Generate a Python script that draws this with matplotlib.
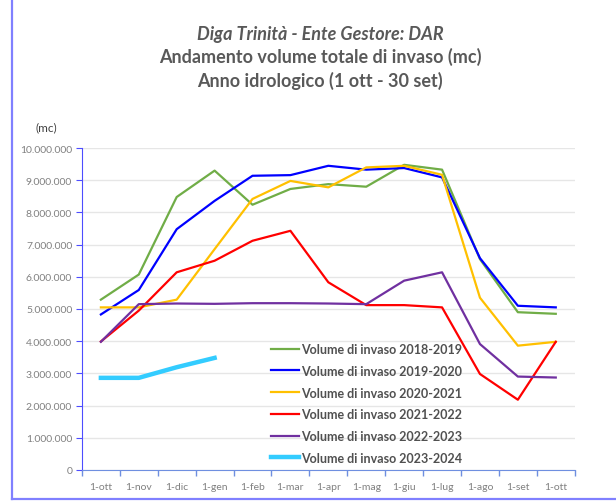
import numpy as np
import matplotlib
matplotlib.use("Agg")
import matplotlib.pyplot as plt
from matplotlib.lines import Line2D
from matplotlib.ticker import FuncFormatter

plt.rcParams['font.family'] = ['Lato', 'DejaVu Sans']

months = ['1-ott', '1-nov', '1-dic', '1-gen', '1-feb', '1-mar', '1-apr',
          '1-mag', '1-giu', '1-lug', '1-ago', '1-set', '1-ott']

# volumes in millions of m3
v_2018_2019 = [5.29, 6.07, 8.48, 9.30, 8.24, 8.73, 8.88, 8.80, 9.48, 9.33, 6.55, 4.90, 4.85]
v_2019_2020 = [4.83, 5.59, 7.48, 8.36, 9.14, 9.16, 9.45, 9.33, 9.38, 9.09, 6.58, 5.10, 5.05]
v_2020_2021 = [5.05, 5.05, 5.29, 6.86, 8.42, 8.98, 8.78, 9.40, 9.45, 9.17, 5.35, 3.86, 3.98]
v_2021_2022 = [3.99, 4.95, 6.14, 6.50, 7.12, 7.43, 5.83, 5.12, 5.12, 5.05, 2.98, 2.18, 3.98]
v_2022_2023 = [3.98, 5.15, 5.17, 5.16, 5.18, 5.18, 5.17, 5.15, 5.88, 6.14, 3.91, 2.90, 2.87]
v_2023_2024 = [2.86, 2.86, 3.19, 3.48]

series = [
    ('Volume di invaso 2018-2019', v_2018_2019, '#70AD47', 1.6),
    ('Volume di invaso 2019-2020', v_2019_2020, '#0000FF', 1.6),
    ('Volume di invaso 2020-2021', v_2020_2021, '#FFC000', 1.6),
    ('Volume di invaso 2021-2022', v_2021_2022, '#FF0000', 1.6),
    ('Volume di invaso 2022-2023', v_2022_2023, '#7030A0', 1.6),
    ('Volume di invaso 2023-2024', v_2023_2024, '#33CCFF', 3.2),
]

fig = plt.figure(figsize=(6.16, 5.02), dpi=100)
ax = fig.add_axes([0.133, 0.062, 0.800, 0.641])

for label, vals, color, lw in series:
    x = np.arange(len(vals))
    ax.plot(x, np.array(vals) * 1e6, color=color, lw=lw, label=label,
            solid_joinstyle='round')

ax.set_xlim(-0.5, 12.5)
ax.set_ylim(0, 10e6)
ax.set_yticks(np.arange(0, 10.1e6, 1e6))
ax.yaxis.set_major_formatter(FuncFormatter(lambda v, p: f"{int(v):,}".replace(',', '.')))
ax.grid(axis='y', color='#e6e6e6', lw=1)
ax.set_axisbelow(True)

# tick marks between categories, labels at category centres
ax.set_xticks(np.arange(-0.5, 13, 1))
ax.set_xticklabels([])
ax.set_xticks(np.arange(13), minor=True)
ax.set_xticklabels(months, minor=True)
ax.tick_params(axis='x', which='major', length=4, color='#6f8fe0', width=1)
ax.tick_params(axis='x', which='minor', length=0, pad=9, labelsize=7.5, labelcolor='#808080')
ax.tick_params(axis='y', length=4, color='#4d4dff', labelsize=7.5, labelcolor='#808080', pad=3)

for s in ['top', 'right']:
    ax.spines[s].set_visible(False)
ax.spines['left'].set_color('#4d4dff')
ax.spines['bottom'].set_color('#6f8fe0')

ax.text(-0.095, 1.056, '(mc)', transform=ax.transAxes, fontsize=8.5, color='#404040')

leg = ax.legend(loc='lower left', bbox_to_anchor=(0.36, -0.016), frameon=False,
                handlelength=2.3, handletextpad=0.1, labelspacing=0.78,
                prop={'size': 9, 'weight': 'bold'})
for t in leg.get_texts():
    t.set_color('#505050')

fig.text(0.52, 0.921, 'Diga Trinità - Ente Gestore: DAR', ha='center', fontsize=13,
         style='italic', weight='bold', color='#595959')
fig.text(0.52, 0.874, 'Andamento volume totale di invaso (mc)', ha='center', fontsize=13,
         weight='bold', color='#595959')
fig.text(0.52, 0.826, 'Anno idrologico (1 ott - 30 set)', ha='center', fontsize=13,
         weight='bold', color='#595959')

# outer frame lines (left and bottom)
fig.add_artist(Line2D([0.02, 0.02], [0.004, 1.0], transform=fig.transFigure, color='#8080ff', lw=1.6))
fig.add_artist(Line2D([0.02, 1.0], [0.004, 0.004], transform=fig.transFigure, color='#8080ff', lw=1.6))

fig.savefig('out.png', dpi=100, facecolor='white')
